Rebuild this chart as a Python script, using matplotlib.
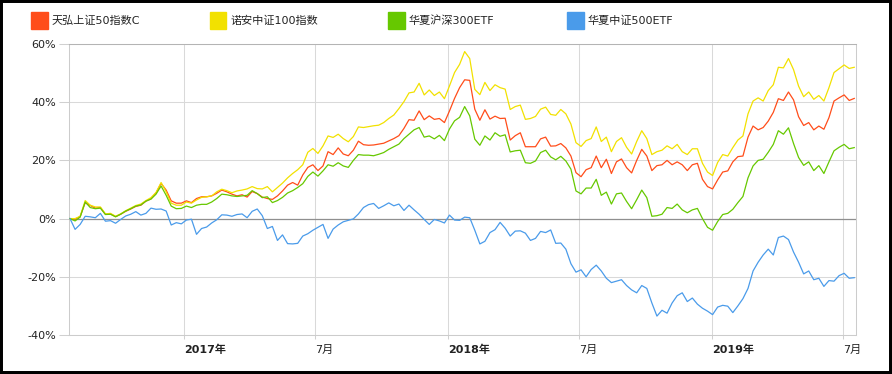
import numpy as np
import pandas as pd
import matplotlib
matplotlib.use('Agg')
import matplotlib.pyplot as plt
from matplotlib.patches import Rectangle
from matplotlib.transforms import ScaledTranslation

plt.rcParams['font.family'] = ['DejaVu Sans', 'Noto Sans CJK SC']

# weekly samples, cumulative return in %
dates = pd.date_range('2016-07-27', periods=156, freq='7D')

names = ['天弘上证50指数C', '诺安中证100指数', '华夏沪深300ETF', '华夏中证500ETF']
colors = ['#FF4D1A', '#F2E100', '#66C800', '#4A9BEA']

tianhong_50 = [
    0, -0.2, 0.7, 5.5, 4.5, 3.6, 3.8, 1.5, 1.6, 0.7,
    1.5, 2.5, 3.3, 4.2, 4.6, 6.0, 6.8, 8.8, 12.1, 9.8,
    6.1, 5.3, 5.3, 6.1, 5.5, 6.9, 7.5, 7.5, 7.8, 8.7,
    9.8, 9.2, 8.4, 7.8, 8.2, 7.4, 9.3, 8.6, 7.4, 6.9,
    6.6, 7.8, 9.5, 11.5, 12.4, 11.5, 15.0, 17.6, 18.5, 16.5,
    18.1, 23.0, 22.0, 24.3, 22.2, 21.6, 23.5, 26.6, 25.4, 25.2,
    25.3, 25.6, 25.9, 26.7, 27.5, 28.5, 31.0, 34.0, 33.8, 37.0,
    34.0, 35.3, 34.1, 34.4, 33.0, 37.0, 41.3, 45.0, 47.7, 47.5,
    37.6, 33.8, 37.4, 34.2, 35.2, 34.4, 34.5, 27.0, 28.5, 29.5,
    24.7, 24.7, 24.7, 27.4, 28.0, 24.9, 25.0, 25.8, 24.3, 21.5,
    15.8, 14.4, 16.8, 17.5, 21.5, 17.5, 20.4, 15.5, 19.5, 20.5,
    17.5, 15.7, 20.0, 23.8, 21.5, 16.5, 18.2, 18.5, 20.0, 18.5,
    19.5, 18.5, 16.5, 18.5, 19.0, 13.5, 11.0, 10.2, 13.3, 16.0,
    16.4, 19.5, 21.3, 21.5, 28.0, 31.8, 30.5, 31.3, 33.5, 36.5,
    41.2, 40.6, 43.5, 40.8, 35.0, 32.0, 33.0, 30.5, 31.8, 30.7,
    34.7, 40.4, 41.5, 42.5, 40.6, 41.3,
]

nuoan_100 = [
    0, 0, 0.8, 6.2, 4.6, 4.0, 4.0, 1.6, 1.8, 0.8,
    1.6, 2.7, 3.6, 4.5, 5.0, 6.2, 7.2, 9.0, 12.4, 9.2,
    5.3, 4.6, 4.6, 5.7, 5.3, 6.4, 7.3, 7.5, 7.8, 9.2,
    10.1, 9.6, 8.9, 9.5, 9.8, 10.2, 11.0, 10.3, 10.2, 11.0,
    9.2, 10.7, 12.2, 14.0, 15.5, 16.8, 18.5, 22.8, 24.1, 22.4,
    25.0, 28.4, 27.9, 29.0, 27.5, 26.4, 28.2, 31.5, 31.3, 31.6,
    31.9, 32.1, 33.0, 34.4, 35.6, 37.8, 40.2, 43.2, 43.5, 46.5,
    42.5, 44.2, 42.3, 43.5, 41.2, 45.6, 50.2, 53.0, 57.4, 55.0,
    44.4, 42.6, 46.8, 44.0, 46.0, 45.0, 44.5, 37.5, 38.5, 39.0,
    34.1, 34.4, 35.1, 37.6, 38.3, 35.8, 35.5, 37.5, 36.0, 32.5,
    26.1, 24.8, 26.8, 27.5, 31.5, 26.5, 28.0, 23.0, 26.5, 27.8,
    24.5, 22.2, 26.5, 30.2, 27.5, 22.0, 23.0, 23.5, 25.0, 24.0,
    25.5, 23.0, 22.0, 24.0, 24.0, 19.0, 16.0, 14.8, 19.3, 22.0,
    21.5, 24.4, 27.0, 28.4, 36.0, 40.4, 41.5, 40.4, 44.0, 46.0,
    52.0, 51.8, 55.0, 51.2, 45.5, 41.9, 43.5, 41.0, 42.3, 40.4,
    45.0, 50.2, 51.5, 52.8, 51.6, 52.0,
]

hs_300 = [
    0, -0.8, 0.5, 5.7, 3.8, 3.4, 3.6, 1.4, 1.5, 0.6,
    1.5, 2.6, 3.4, 4.3, 4.7, 6.0, 6.7, 8.4, 11.2, 8.0,
    4.3, 3.4, 3.5, 4.3, 3.8, 4.6, 4.9, 4.9, 5.7, 6.9,
    8.4, 8.2, 7.8, 7.6, 7.8, 8.0, 9.6, 8.6, 7.2, 7.5,
    5.5, 6.2, 7.3, 8.8, 9.6, 10.7, 12.0, 14.5, 16.0, 14.6,
    16.4, 18.5, 18.0, 19.2, 18.1, 17.6, 20.0, 22.0, 21.8, 21.8,
    21.6, 22.1, 22.7, 23.8, 24.7, 25.6, 27.5, 29.0, 30.5, 31.3,
    28.0, 28.4, 27.4, 28.6, 26.8, 30.8, 33.6, 34.8, 38.5, 35.3,
    27.3, 25.2, 28.4, 27.0, 29.5, 28.3, 28.8, 22.9, 23.3, 23.5,
    19.2, 19.0, 19.8, 22.7, 23.5, 21.2, 20.2, 21.4, 19.8, 17.0,
    9.5, 8.5, 10.5, 10.5, 13.5, 8.0, 9.1, 5.0, 8.5, 8.8,
    5.9, 3.4, 6.5, 9.8, 7.2, 0.8, 1.0, 1.5, 3.8, 3.5,
    5.0, 3.0, 2.0, 3.0, 3.5, 0.0, -3.0, -4.0, -1.0, 1.4,
    1.8, 3.2, 5.5, 7.6, 14.0, 18.1, 20.0, 20.4, 22.8, 25.5,
    30.2, 29.0, 31.2, 25.8, 21.0, 18.3, 19.5, 16.5, 18.2, 15.5,
    19.5, 23.3, 24.5, 25.5, 24.0, 24.4,
]

zz_500 = [
    0, -3.7, -2.0, 0.8, 0.6, 0.3, 1.8, -0.9, -0.7, -1.6,
    -0.3, 0.9, 1.5, 2.4, 1.2, 1.8, 3.6, 3.2, 3.3, 2.6,
    -2.2, -1.4, -1.8, -0.5, -0.2, -5.4, -3.4, -2.9, -1.5, -0.4,
    1.3, 1.2, 0.8, 1.4, 1.6, 0.3, 2.5, 3.3, 1.0, -3.4,
    -2.7, -7.5, -5.6, -8.6, -8.7, -8.5, -6.0, -5.2, -4.0, -3.0,
    -2.0, -6.8, -3.6, -2.2, -1.1, -0.6, -0.1, 1.6, 3.8, 4.8,
    5.2, 3.5, 4.4, 5.4, 4.4, 5.0, 2.8, 4.6, 3.0, 1.5,
    -0.3, -2.0, -0.3, -0.8, -1.5, 1.2, -0.5, -0.6, 0.5, 0.3,
    -4.0, -8.7, -7.8, -4.8, -3.8, -1.3, -3.3, -6.0, -4.3, -4.2,
    -5.0, -7.5, -6.8, -4.4, -4.8, -3.9, -8.5, -8.4, -10.5, -15.5,
    -18.4, -17.6, -20.0, -17.5, -16.0, -18.0, -20.5, -22.0, -21.5, -21.0,
    -23.0, -24.5, -25.5, -23.0, -24.0, -29.0, -33.5, -31.5, -32.5, -29.0,
    -26.5, -25.5, -28.5, -27.3, -29.4, -30.8, -31.8, -33.0, -30.4, -29.8,
    -30.1, -32.3, -30.0, -27.5, -24.0, -18.0, -15.0, -12.5, -10.5, -12.5,
    -6.5, -6.0, -7.2, -11.5, -15.0, -19.0, -18.0, -21.0, -20.5, -23.3,
    -21.3, -21.5, -19.6, -18.8, -20.5, -20.3,
]

tick_dates = ['2017-01-01', '2017-07-01', '2018-01-01', '2018-07-01', '2019-01-01', '2019-07-01']
tick_labels = ['2017年', '7月', '2018年', '7月', '2019年', '7月']
tick_bold = [True, False, True, False, True, False]
y_ticks = [-40, -20, 0, 20, 40, 60]

W, H = 892, 374
fig = plt.figure(figsize=(W / 100, H / 100), dpi=100)
ax = fig.add_axes([69.3 / W, 1 - 335 / H, (855.7 - 69.3) / W, (335 - 44) / H])

series = [tianhong_50, nuoan_100, hs_300, zz_500]
for vals, c in zip(series, colors):
    ax.plot(dates, vals, color=c, lw=0.9, zorder=3)

ax.axhline(0, color='#8f8f8f', lw=0.9, zorder=2)

ax.set_xlim(pd.Timestamp('2016-07-26'), pd.Timestamp('2019-07-19'))
ax.set_ylim(-40, 60)
ax.set_yticks(y_ticks)
ax.set_yticklabels([f'{v}%' for v in y_ticks], fontsize=8, color='#222222')
ax.set_xticks(pd.to_datetime(tick_dates))
ax.set_xticklabels(tick_labels, fontsize=8, color='#222222', ha='left')
offset = ScaledTranslation(3.5 / 100, 0, fig.dpi_scale_trans)
for lab, b in zip(ax.get_xticklabels(), tick_bold):
    lab.set_transform(lab.get_transform() + offset)
    if b:
        lab.set_fontweight('bold')

ax.grid(True, color='#d9d9d9', lw=0.75, zorder=0)
ax.tick_params(axis='y', length=7, width=0.75, color='#d0d0d0', pad=2.4)
ax.tick_params(axis='x', length=3, width=0.75, color='#d0d0d0', pad=4)
for side, sp in ax.spines.items():
    sp.set_color('#b4b4b4' if side == 'top' else '#cccccc')
    sp.set_linewidth(0.75)

# legend row across the top
for i, (name, c) in enumerate(zip(names, colors)):
    x0 = 31 + 178.5 * i
    fig.patches.append(Rectangle((x0 / W, 1 - 29 / H), 17 / W, 17 / H,
                                 transform=fig.transFigure, color=c))
    fig.text((x0 + 21) / W, 1 - 21 / H, name, fontsize=8, color='#222222',
             va='center', ha='left')

# black frame round the picture
fig.patches.append(Rectangle((0, 0), 1, 1, transform=fig.transFigure,
                             fill=False, edgecolor='black', lw=4.3))

fig.savefig('out.png', dpi=100)
